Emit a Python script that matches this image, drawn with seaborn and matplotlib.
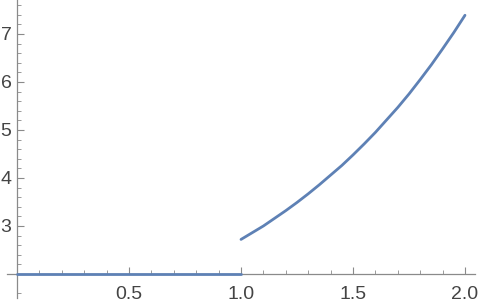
import matplotlib
matplotlib.use("Agg")
import matplotlib.pyplot as plt
import seaborn as sns
import numpy as np
import pandas as pd
from matplotlib.ticker import FixedLocator

# values
x_left = [0.0, 0.25, 0.5, 0.75, 1.0]
y_left = [2.0, 2.0, 2.0, 2.0, 2.0]
x_right = [1.0, 1.05, 1.1, 1.15, 1.2, 1.25, 1.3, 1.35, 1.4, 1.45, 1.5,
           1.55, 1.6, 1.65, 1.7, 1.75, 1.8, 1.85, 1.9, 1.95, 2.0]
y_right = [2.72, 2.86, 3.00, 3.16, 3.32, 3.49, 3.67, 3.86, 4.06, 4.26, 4.48,
           4.71, 4.95, 5.21, 5.47, 5.75, 6.05, 6.36, 6.69, 7.03, 7.39]
x_ticks = [0.5, 1.0, 1.5, 2.0]
x_tick_labels = ["0.5", "1.0", "1.5", "2.0"]
y_ticks = [3, 4, 5, 6, 7]
y_tick_labels = ["3", "4", "5", "6", "7"]

sns.set_style("white")
plt.rcParams['font.family'] = ['Liberation Sans', 'DejaVu Sans']

fig = plt.figure(figsize=(4.8, 3.06), dpi=100)
ax = fig.add_axes([0, 0, 1, 1])
ax.patch.set_alpha(0)

color = "#5E81B5"
df_l = pd.DataFrame({"x": x_left, "y": y_left})
df_r = pd.DataFrame({"x": x_right, "y": y_right})
sns.lineplot(data=df_l, x="x", y="y", ax=ax, color=color, linewidth=2.0, clip_on=False, zorder=3)
sns.lineplot(data=df_r, x="x", y="y", ax=ax, color=color, linewidth=2.0, zorder=3)

ax.set_xlim(-0.076, 2.067)
ax.set_ylim(1.333, 7.708)

for s in ["top", "right"]:
    ax.spines[s].set_visible(False)
ax.spines["left"].set_position(("data", 0))
ax.spines["bottom"].set_position(("data", 2))
ax.spines["bottom"].set_bounds(-0.045, 2.045)
ax.spines["left"].set_bounds(1.5, 7.708)
for s in ["left", "bottom"]:
    ax.spines[s].set_color("#8a8a8a")
    ax.spines[s].set_linewidth(0.9)

ax.set_xticks(x_ticks)
ax.set_xticklabels(x_tick_labels)
ax.set_yticks(y_ticks)
ax.set_yticklabels(y_tick_labels)
ax.xaxis.set_minor_locator(FixedLocator([v / 10 for v in range(1, 21) if v % 5 != 0]))
ax.yaxis.set_minor_locator(FixedLocator([1.6] + [2 + v / 5 for v in range(1, 29) if v % 5 != 0]))

ax.tick_params(axis="both", which="both", bottom=True, left=True, top=False, right=False)
ax.tick_params(axis="x", which="major", direction="in", length=5, width=0.8, color="#8a8a8a",
               labelsize=14, labelcolor="#444444", pad=9)
ax.tick_params(axis="x", which="minor", direction="in", length=3, width=0.6, color="#8a8a8a")
ax.tick_params(axis="y", which="major", direction="in", length=5, width=0.8, color="#8a8a8a",
               labelsize=14, labelcolor="#444444", pad=4)
ax.tick_params(axis="y", which="minor", direction="in", length=3, width=0.6, color="#8a8a8a")
ax.set_xlabel("")
ax.set_ylabel("")

fig.savefig("out.png", dpi=100)
